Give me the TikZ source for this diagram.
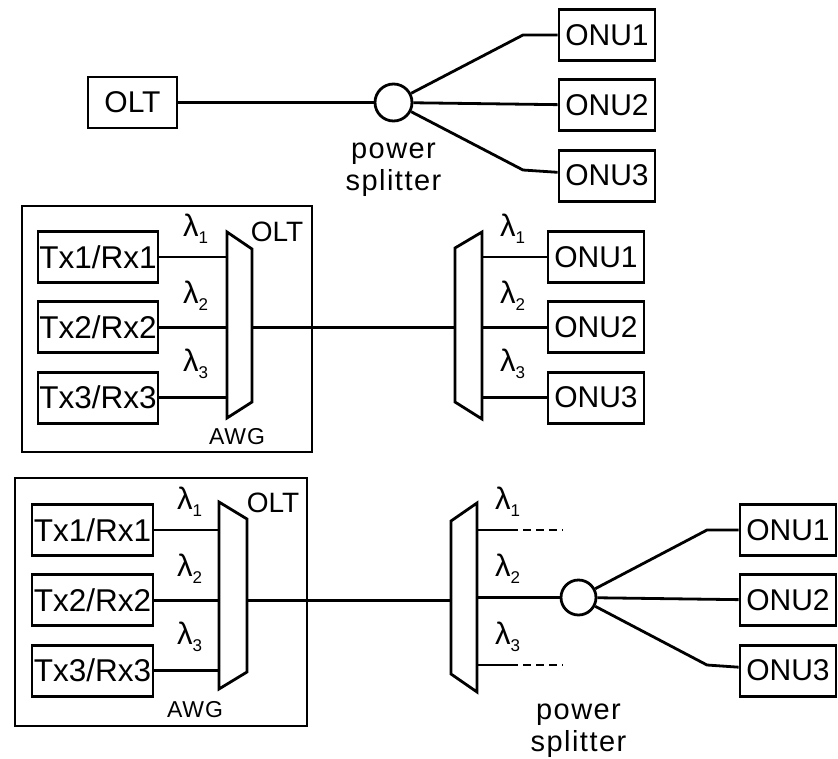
\documentclass[tikz,border=0pt]{standalone}
\usepackage{fontspec}
\setmainfont{Liberation Sans}
\usetikzlibrary{positioning}
\tikzset{
  unit/.style={draw, line width=2.8pt, minimum width=96pt, minimum height=51pt,
               inner sep=0pt, font=\fontsize{30}{32}\selectfont},
  trx/.style={unit, minimum width=120pt, font=\fontsize{31.5}{32}\selectfont},
  split/.style={draw, circle, line width=2.8pt, minimum size=37pt, inner sep=0pt},
  fiber/.style={line width=2.8pt},
  shell/.style={draw, line width=2.8pt, inner sep=0pt},
  lam/.style={anchor=base west, inner sep=0pt, font=\fontsize{31}{32}\selectfont},
  tag/.style={inner sep=0pt, font=\fontsize{28}{30}\selectfont},
  awgtag/.style={inner sep=0pt, font=\fontsize{23}{24}\selectfont\addfontfeature{LetterSpace=4}},
  note/.style={align=center, inner sep=0pt,
               font=\fontsize{29}{32}\selectfont\addfontfeature{LetterSpace=5}},
}
\newcommand{\wlen}[1]{λ\lower7pt\hbox{\fontsize{17}{17}\selectfont #1}}

\begin{document}
\begin{tikzpicture}[x=1pt, y=-1pt]
  \useasboundingbox (0,0) rectangle (838,758);
  % TDM-PON with a power splitter
  \node[unit, minimum width=89pt] (olt1) at (132.5,102.5) {OLT};
  \node[split] (ps1) at (393.5,102.5) {};
  \node[note, below=20pt of ps1] {power\\splitter};
  \node[unit] (onu11) at (607,35) {ONU1};
  \node[unit, below=16.5pt of onu11] (onu12) {ONU2};
  \node[unit, below=16.5pt of onu12] (onu13) {ONU3};
  \coordinate (f11) at (523,35);
  \coordinate (f13) at (523,170);
  \draw[fiber] (olt1) -- (ps1);
  \draw[fiber] (ps1) -- (f11) -- (onu11);
  \draw[fiber] (ps1) -- (onu12);
  \draw[fiber] (ps1) -- (f13) -- (onu13);

  % WDM-PON with AWGs
  \node[shell, minimum width=290pt, minimum height=246pt] (oltbox2) at (167,329) {};
  \node[trx] (tx21) at (98,257) {Tx1/Rx1};
  \node[trx, below=16.5pt of tx21] (tx22) {Tx2/Rx2};
  \node[trx, below=16.5pt of tx22] (tx23) {Tx3/Rx3};
  \draw[fiber] (227,232) coordinate (awg21) -- (252,249) coordinate (awg22)
    -- (252,402) -- (227,418) -- cycle;
  \draw[fiber] (455,248) coordinate (awg31) -- (482,232) coordinate (awg32)
    -- (482,419) -- (455,402) -- cycle;
  \node[unit] (onu21) at (596,257) {ONU1};
  \node[unit, below=16.5pt of onu21] (onu22) {ONU2};
  \node[unit, below=16.5pt of onu22] (onu23) {ONU3};
  \draw[fiber] (tx21) -- (tx21 -| awg21);
  \draw[fiber] (tx22) -- (tx22 -| awg21);
  \draw[fiber] (tx23) -- (tx23 -| awg21);
  \draw[fiber] (tx22 -| awg22) -- (tx22 -| awg31);
  \draw[fiber] (onu21 -| awg32) -- (onu21);
  \draw[fiber] (onu22 -| awg32) -- (onu22);
  \draw[fiber] (onu23 -| awg32) -- (onu23);
  \node[lam] at (183,236) {\wlen{1}};
  \node[lam] at (183,303.5) {\wlen{2}};
  \node[lam] at (183,371) {\wlen{3}};
  \node[lam] at (500,236) {\wlen{1}};
  \node[lam] at (500,303.5) {\wlen{2}};
  \node[lam] at (500,371) {\wlen{3}};
  \node[tag] at (277,232) {OLT};
  \node[awgtag] at (237,437) {AWG};

  % hybrid: AWG followed by a power splitter
  \node[shell, minimum width=292pt, minimum height=248pt] (oltbox3) at (161,602) {};
  \node[trx, minimum width=121pt] (tx31) at (92.5,530) {Tx1/Rx1};
  \node[trx, minimum width=121pt, below=16.5pt of tx31] (tx32) {Tx2/Rx2};
  \node[trx, minimum width=121pt, below=16.5pt of tx32] (tx33) {Tx3/Rx3};
  \draw[fiber] (219,502) coordinate (awg41) -- (247,519) coordinate (awg42)
    -- (247,672) -- (219,689) -- cycle;
  \draw[fiber] (451,521) coordinate (awg51) -- (477,503) coordinate (awg52)
    -- (477,692) -- (451,674) -- cycle;
  \node[split, minimum size=35pt] (ps3) at (578.5,597.5) {};
  \node[note, below=87pt of ps3] {power\\splitter};
  \node[unit] (onu31) at (788,530) {ONU1};
  \node[unit, below=16.5pt of onu31] (onu32) {ONU2};
  \node[unit, below=16.5pt of onu32] (onu33) {ONU3};
  \coordinate (d31) at (510,530);
  \coordinate (d33) at (510,665);
  \coordinate (e31) at (563,530);
  \coordinate (e33) at (563,665);
  \coordinate (f31) at (707,530);
  \coordinate (f33) at (707,665);
  \draw[fiber] (tx31) -- (tx31 -| awg41);
  \draw[fiber] (tx32) -- (tx32 -| awg41);
  \draw[fiber] (tx33) -- (tx33 -| awg41);
  \draw[fiber] (tx32 -| awg42) -- (tx32 -| awg51);
  \draw[fiber] (d31 -| awg52) -- (d31);
  \draw[fiber, dash pattern=on 8pt off 5pt] (d31) -- (e31);
  \draw[fiber] (d33 -| awg52) -- (d33);
  \draw[fiber, dash pattern=on 8pt off 5pt] (d33) -- (e33);
  \draw[fiber] (ps3 -| awg52) -- (ps3);
  \draw[fiber] (ps3) -- (f31) -- (onu31);
  \draw[fiber] (ps3) -- (onu32);
  \draw[fiber] (ps3) -- (f33) -- (onu33);
  \node[lam] at (177,509) {\wlen{1}};
  \node[lam] at (177,576.5) {\wlen{2}};
  \node[lam] at (177,644) {\wlen{3}};
  \node[lam] at (495,509) {\wlen{1}};
  \node[lam] at (495,576.5) {\wlen{2}};
  \node[lam] at (495,644) {\wlen{3}};
  \node[tag] at (273,503) {OLT};
  \node[awgtag] at (195,710) {AWG};
\end{tikzpicture}
\end{document}
